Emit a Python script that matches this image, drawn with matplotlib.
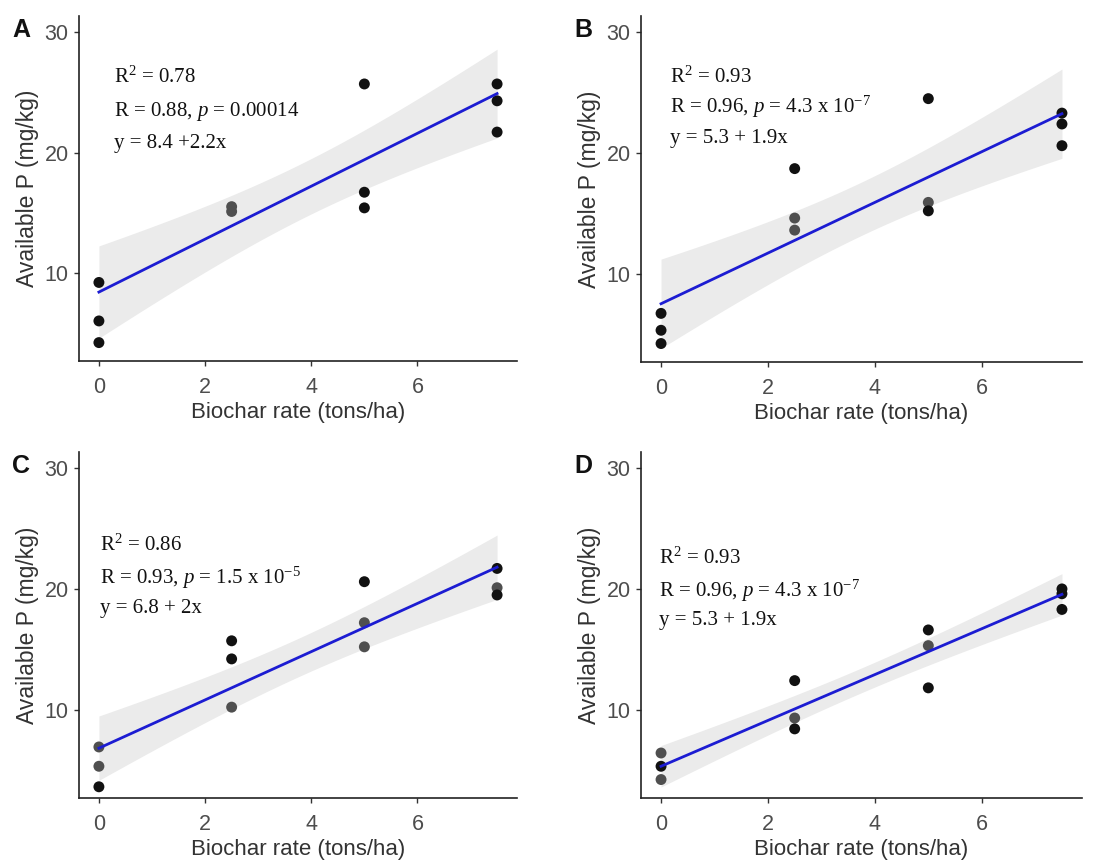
import numpy as np
import matplotlib
matplotlib.use('Agg')
import matplotlib.pyplot as plt

plt.rcParams['font.family'] = 'Liberation Sans'
plt.rcParams['mathtext.fontset'] = 'custom'
plt.rcParams['mathtext.rm'] = 'Liberation Serif'
plt.rcParams['mathtext.it'] = 'Liberation Serif:italic'

# biochar rate (tons/ha) and available P (mg/kg) for each panel
x_a = [0, 0, 0, 2.5, 2.5, 5, 5, 5, 7.5, 7.5, 7.5]
p_a = [9.2, 6.0, 4.2, 15.5, 15.1, 25.7, 16.7, 15.4, 25.7, 24.3, 21.7]
x_bcd = [0, 0, 0, 2.5, 2.5, 2.5, 5, 5, 5, 7.5, 7.5, 7.5]
p_b = [6.7, 5.3, 4.2, 18.7, 14.6, 13.6, 24.5, 15.9, 15.2, 23.3, 22.4, 20.6]
p_c = [6.9, 5.3, 3.6, 15.7, 14.2, 10.2, 20.6, 17.2, 15.2, 21.7, 20.1, 19.5]
p_d = [6.4, 5.3, 4.2, 12.4, 9.3, 8.4, 16.6, 15.3, 11.8, 20.0, 19.6, 18.3]

# 1 = darker point, 0 = grey point
dark_a = [1, 1, 1, 0, 0, 1, 1, 1, 1, 1, 1]
dark_b = [1, 1, 1, 1, 0, 0, 1, 0, 1, 1, 1, 1]
dark_c = [0, 0, 1, 1, 1, 0, 1, 0, 0, 1, 0, 1]
dark_d = [0, 1, 0, 1, 0, 1, 1, 0, 1, 1, 1, 1]

# fitted lines (intercept, slope)
intercepts = [8.4, 7.5, 6.8, 5.3]
slopes = [2.2, 2.1, 2.0, 1.9]

letters = ['A', 'B', 'C', 'D']
stats = [
    [r'$\mathrm{R}^2$ = 0.78', r'R = 0.88, $\mathit{p}$ = 0.00014', 'y = 8.4 +2.2x'],
    [r'$\mathrm{R}^2$ = 0.93', r'R = 0.96, $\mathit{p}$ = 4.3 x 10$^{-7}$', 'y = 5.3 + 1.9x'],
    [r'$\mathrm{R}^2$ = 0.86', r'R = 0.93, $\mathit{p}$ = 1.5 x 10$^{-5}$', 'y = 6.8 + 2x'],
    [r'$\mathrm{R}^2$ = 0.93', r'R = 0.96, $\mathit{p}$ = 4.3 x 10$^{-7}$', 'y = 5.3 + 1.9x'],
]
text_x = [0.28, 0.16, 0.02, -0.03]
text_y = [[25.8, 23.05, 20.4], [25.8, 23.3, 20.8], [23.15, 20.4, 18.0], [22.05, 19.35, 17.0]]

xs = [x_a, x_bcd, x_bcd, x_bcd]
ps = [p_a, p_b, p_c, p_d]
darks = [dark_a, dark_b, dark_c, dark_d]

t975 = {9: 2.262, 10: 2.228}

W, H = 1105, 863
fig = plt.figure(figsize=(W / 100, H / 100), dpi=100)
boxes = [(79, 16, 517, 361), (641, 16, 1082, 362),
         (79, 452, 517, 798), (641, 452, 1082, 798)]

for i in range(4):
    l, t, r, b = boxes[i]
    ax = fig.add_axes([l / W, 1 - b / H, (r - l) / W, (b - t) / H])
    x = np.array(xs[i], dtype=float)
    y = np.array(ps[i], dtype=float)
    b0, b1 = intercepts[i], slopes[i]

    # 95% confidence band of the linear fit
    n = len(x)
    resid = y - (b0 + b1 * x)
    s = np.sqrt(np.sum(resid ** 2) / (n - 2))
    sxx = np.sum((x - x.mean()) ** 2)
    xx = np.linspace(0, 7.5, 200)
    fit = b0 + b1 * xx
    half = t975[n - 2] * s * np.sqrt(1 / n + (xx - x.mean()) ** 2 / sxx)
    ax.fill_between(xx, fit - half, fit + half, color='#ebebeb', lw=0, zorder=1)

    cols = ['#111111' if d else '#4f4f4f' for d in darks[i]]
    ax.scatter(x, y, s=62, c=cols, edgecolors='none', zorder=2)
    ax.plot(xx, fit, color='#1c1cd2', lw=2, zorder=3)

    for txt, ty in zip(stats[i], text_y[i]):
        ax.text(text_x[i], ty, txt, family='Liberation Serif', fontsize=15,
                va='baseline', ha='left', color='#111111')

    ax.set_xlim(-0.375, 7.875)
    ax.set_ylim(2.67, 31.35)
    ax.set_xticks([0, 2, 4, 6])
    ax.set_yticks([10, 20, 30])
    for side in ['top', 'right']:
        ax.spines[side].set_visible(False)
    for side in ['left', 'bottom']:
        ax.spines[side].set_linewidth(1.2)
        ax.spines[side].set_color('#222222')
    ax.tick_params(length=3.5, width=1, color='#333333', labelcolor='#4d4d4d',
                   labelsize=15.5)
    ax.tick_params(axis='x', pad=8)
    ax.tick_params(axis='y', pad=4)
    ax.set_xlabel('Biochar rate (tons/ha)', fontsize=16, color='#333333', labelpad=3)
    ax.set_ylabel('Available P (mg/kg)', fontsize=16.5, color='#333333', labelpad=4)

    fig.text((l - 67) / W, 1 - (t + 21) / H, letters[i], fontsize=18,
             fontweight='bold', va='baseline', ha='left', color='#111111')

fig.savefig('out.png', dpi=100)
